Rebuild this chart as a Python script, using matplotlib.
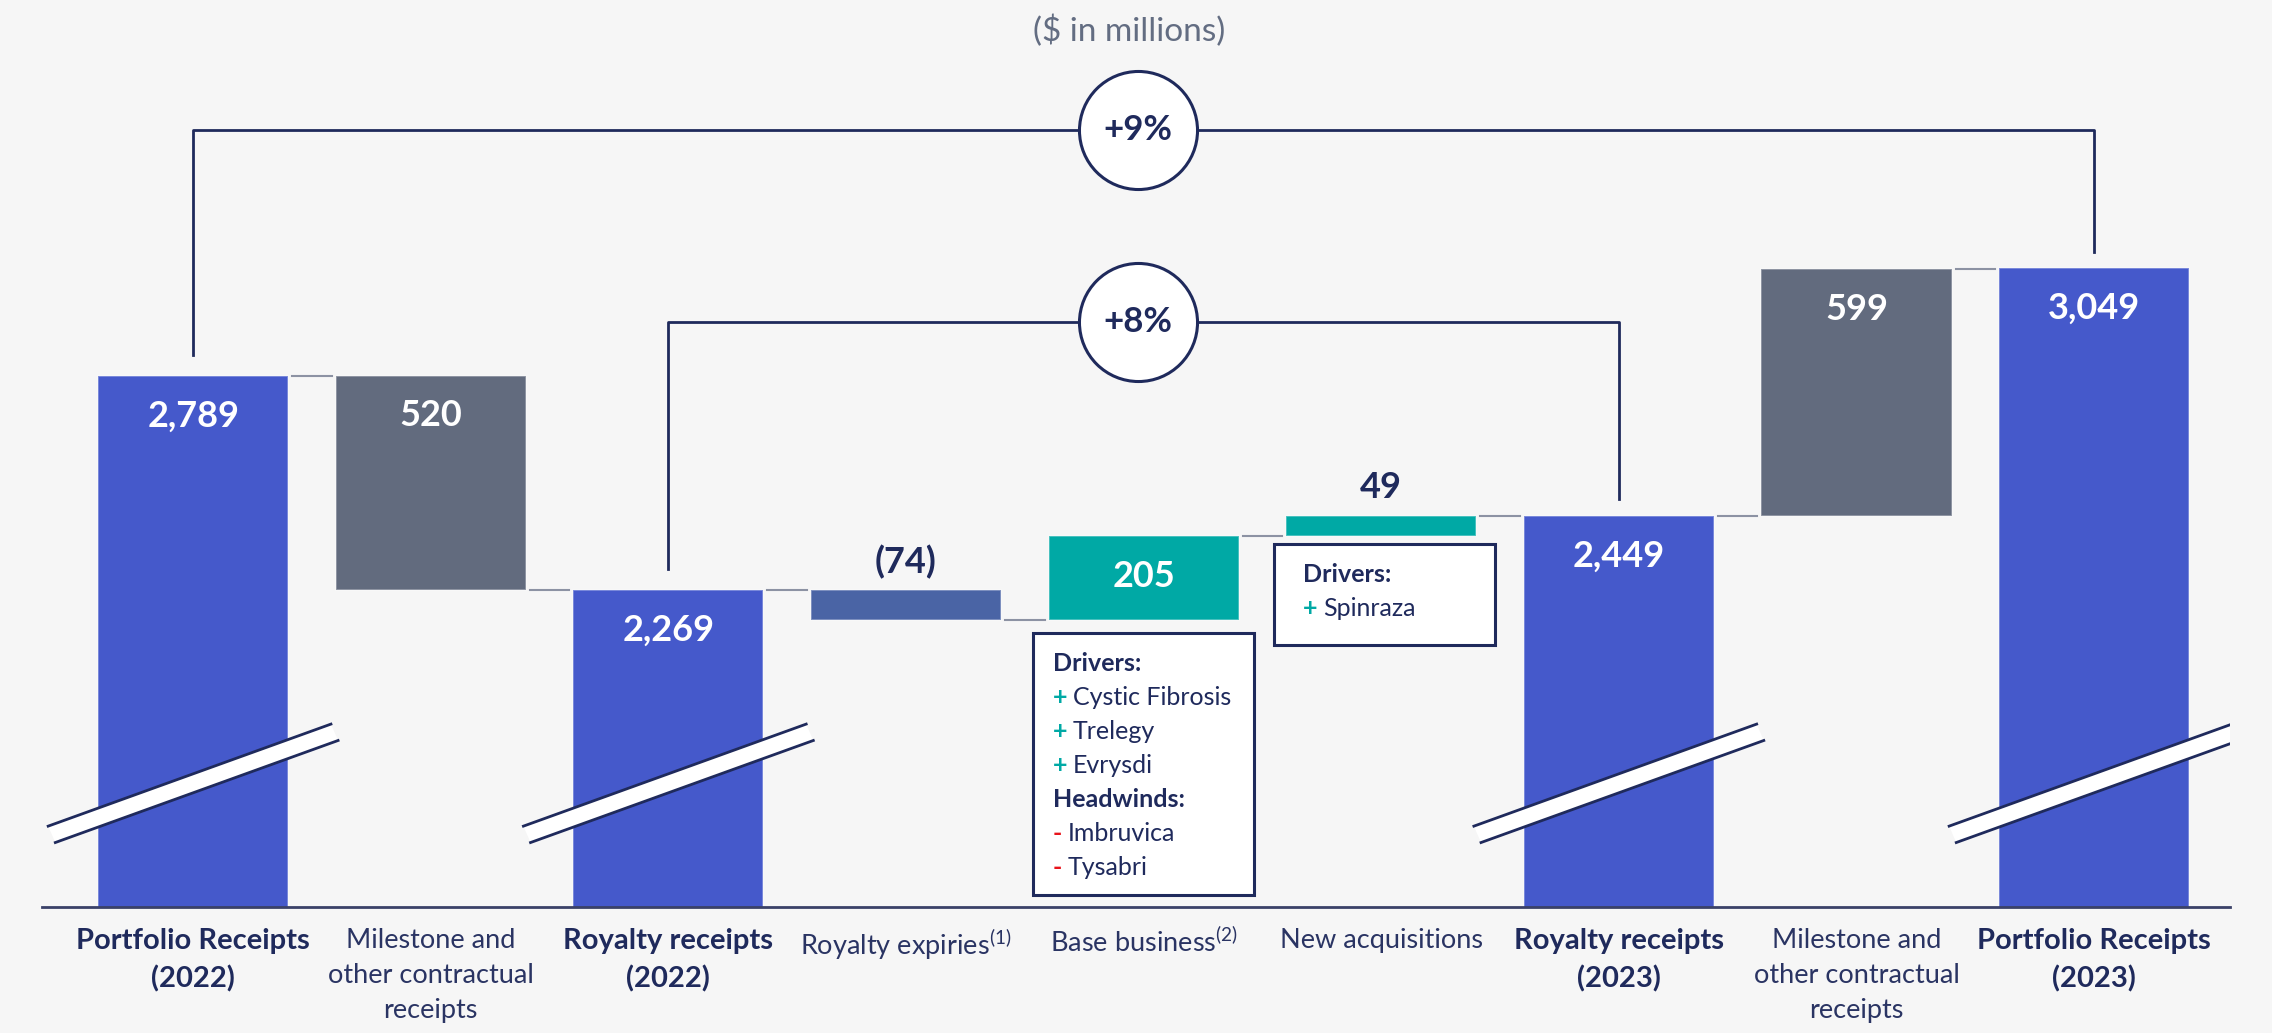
import matplotlib.pyplot as plt
from matplotlib.patches import Rectangle, Polygon

plt.rcParams['font.family'] = ['Lato', 'DejaVu Sans']
plt.rcParams['mathtext.fontset'] = 'custom'
plt.rcParams['mathtext.rm'] = 'Lato'
plt.rcParams['mathtext.it'] = 'Lato:italic'
plt.rcParams['mathtext.bf'] = 'Lato:bold'

# waterfall data ($ in millions)
categories = ['Portfolio Receipts\n(2022)', 'Milestone and\nother contractual\nreceipts',
              'Royalty receipts\n(2022)', 'Royalty expiries$^{(1)}$', 'Base business$^{(2)}$',
              'New acquisitions', 'Royalty receipts\n(2023)',
              'Milestone and\nother contractual\nreceipts', 'Portfolio Receipts\n(2023)']
is_total = [True, False, True, False, False, False, True, False, True]
values = [2789, -520, 2269, -74, 205, 49, 2449, 599, 3049]
value_labels = ['2,789', '520', '2,269', '(74)', '205', '49', '2,449', '599', '3,049']
label_inside = [True, True, True, False, True, False, True, True, True]

growth_labels = ['+9%', '+8%']
growth_from = [0, 2]
growth_to = [8, 6]

base_drivers = ['Cystic Fibrosis', 'Trelegy', 'Evrysdi']
base_headwinds = ['Imbruvica', 'Tysabri']
acq_drivers = ['Spinraza']

BLUE = '#4559cb'
GREY = '#626b7e'
EXPIRY = '#4a64a5'
TEAL = '#00a9a5'
NAVY = '#1f2a5c'
TEXT = '#2a3463'
CONN = '#8c92a3'
BG = '#f6f6f6'
bar_colors = [BLUE, GREY, BLUE, EXPIRY, TEAL, TEAL, BLUE, GREY, BLUE]

fig = plt.figure(figsize=(22.72, 10.33), dpi=100, facecolor=BG)
ax = fig.add_axes([42 / 2272, 126 / 1033, 2188 / 2272, 907 / 1033])
ax.set_facecolor(BG)
ax.set_xlim(-0.636, 8.572)
ax.set_ylim(1500, 3700)

W = 0.8
running = 0
tops = []
levels = []
for i, v in enumerate(values):
    if is_total[i]:
        bottom, height = 0, v
        running = v
    else:
        bottom, height = running, v
        running = running + v
    ax.bar(i, height, bottom=bottom, width=W, color=bar_colors[i],
           edgecolor=(1, 1, 1, 0.35), linewidth=1.2, zorder=2)
    top = max(bottom, bottom + height)
    tops.append(top)
    levels.append(running)
    if label_inside[i]:
        ax.annotate(value_labels[i], (i, top), xytext=(0, -29), textcoords='offset points',
                    ha='center', va='center', color='white', fontsize=26, fontweight='bold')
    else:
        ax.annotate(value_labels[i], (i, top), xytext=(0, 20), textcoords='offset points',
                    ha='center', va='center', color=NAVY, fontsize=26, fontweight='bold')

# connectors between consecutive bars
for i in range(len(values) - 1):
    ax.plot([i + W / 2 + 0.017, i + 1 - W / 2 - 0.017], [levels[i], levels[i]],
            color=CONN, lw=1.5, zorder=1)

# axis break marks on the total bars
k = 208
for i in range(len(values)):
    if not is_total[i]:
        continue
    up, lo = 1823, 1777
    xa, xb = i - 0.61, i + 0.58
    xc, xd = i - 0.58, i + 0.61
    band = Polygon([(xa, up + k * (xa - i)), (xb, up + k * (xb - i)),
                    (xd, lo + k * (xd - i)), (xc, lo + k * (xc - i))],
                   closed=True, facecolor='white', edgecolor='none', zorder=3)
    ax.add_patch(band)
    ax.plot([xa, xb], [up + k * (xa - i), up + k * (xb - i)], color=NAVY, lw=2, zorder=4)
    ax.plot([xc, xd], [lo + k * (xc - i), lo + k * (xd - i)], color=NAVY, lw=2, zorder=4)

# growth brackets
bracket_y = [3385, 2919]
for lab, a, b, y in zip(growth_labels, growth_from, growth_to, bracket_y):
    ax.plot([a, a, b, b], [tops[a] + 50, y, y, tops[b] + 40], color=NAVY, lw=2, zorder=1)
    m = (a + b) / 2 - 0.025
    ax.plot([m], [y], marker='o', ms=85, mfc='white', mec=NAVY, mew=2.2, zorder=5)
    ax.text(m, y, lab, ha='center', va='center', color=NAVY, fontsize=25,
            fontweight='bold', zorder=6)


def driver_box(cx, top, bottom, inset, sections):
    width = 0.93
    left = cx - width / 2
    ax.add_patch(Rectangle((left, bottom), width, top - bottom, facecolor='white',
                           edgecolor=NAVY, lw=2.2, zorder=3))
    dy = 30
    for head, sign, names in sections:
        ax.annotate(head, (left, top), xytext=(inset * 0.72, -dy * 0.72),
                    textcoords='offset points', ha='left', va='center',
                    color=NAVY, fontsize=18, fontweight='bold', zorder=4)
        dy += 34
        for n in names:
            sc = TEAL if sign == '+' else '#e8141b'
            ax.annotate(sign, (left, top), xytext=(inset * 0.72, -dy * 0.72),
                        textcoords='offset points', ha='left', va='center',
                        color=sc, fontsize=18, fontweight='bold', zorder=4)
            off = 20 if sign == '+' else 15
            ax.annotate(n, (left, top), xytext=((inset + off) * 0.72, -dy * 0.72),
                        textcoords='offset points', ha='left', va='center',
                        color=NAVY, fontsize=18, zorder=4)
            dy += 34


driver_box(4, 2164, 1529, 20, [('Drivers:', '+', base_drivers),
                                ('Headwinds:', '-', base_headwinds)])
driver_box(5.015, 2380, 2135, 29, [('Drivers:', '+', acq_drivers)])

for s in ['top', 'left', 'right']:
    ax.spines[s].set_visible(False)
ax.spines['bottom'].set_color('#3a4168')
ax.spines['bottom'].set_linewidth(2)
ax.set_yticks([])
ax.set_xticks(range(len(categories)))
ax.set_xticklabels(categories)
ax.tick_params(axis='x', length=0, pad=15)
for i, t in enumerate(ax.get_xticklabels()):
    t.set_linespacing(1.5)
    if is_total[i]:
        t.set_fontsize(21)
        t.set_fontweight('bold')
        t.set_color(NAVY)
    else:
        t.set_fontsize(19.5)
        t.set_color(TEXT)

fig.text(0.497, 1 - 31 / 1033, '($ in millions)', ha='center', va='center',
         color='#636d82', fontsize=24)

fig.savefig('out.png', dpi=100, facecolor=fig.get_facecolor())
